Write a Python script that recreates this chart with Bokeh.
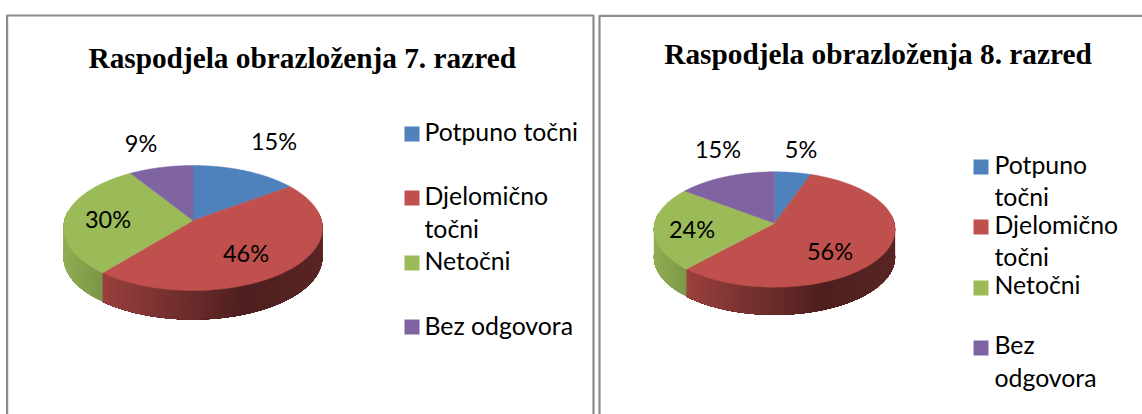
import numpy as np
from bokeh.plotting import figure
from bokeh.models import Range1d
from bokeh.core.properties import value
from bokeh.embed import file_html
from bokeh.resources import INLINE

CATEGORIES = ["Potpuno točni", "Djelomično točni", "Netočni", "Bez odgovora"]
COLORS = ["#4f81bd", "#c0504d", "#9bbb59", "#8064a2"]
VALUES_7 = [15, 46, 30, 9]
VALUES_8 = [5.4, 56.4, 23.5, 14.7]
TITLE_7 = "Raspodjela obrazloženja 7. razred"
TITLE_8 = "Raspodjela obrazloženja 8. razred"
LEGEND_LINES_7 = [["Potpuno točni"], ["Djelomično", "točni"], ["Netočni"], ["Bez odgovora"]]
LEGEND_LINES_8 = [["Potpuno", "točni"], ["Djelomično", "točni"], ["Netočni"], ["Bez", "odgovora"]]

# layout (page pixels)
LAYOUT_7 = dict(cx=192.5, cy=220, top=55, bottom=70, xr=129.5, depth=29,
                title=(301.7, 57),
                labels=[(273.5, 140.5), (245.5, 252), (107.5, 218), (140.5, 142.5)],
                swatch_x=404, swatch_y=[126, 190, 255, 319], text_x=424,
                text_y=[[131], [195, 228], [260], [325]])
LAYOUT_8 = dict(cx=774, cy=222.7, top=51.4, bottom=64, xr=120.6, depth=27.6,
                title=(877.5, 53.5),
                labels=[(800.5, 148), (829.5, 250), (691.5, 228), (717.5, 148)],
                swatch_x=973, swatch_y=[159, 219, 280, 340], text_x=994,
                text_y=[[164, 196], [224, 256], [284], [344, 377]])
FRAME = "#8c8c8c"
SHADE_X = [0.0, 0.15, 0.7, 1.0]
SHADE_K = [0.93, 0.80, 0.40, 0.47]

p = figure(width=1142, height=414, x_range=Range1d(0, 1142), y_range=Range1d(414, 0),
           output_backend="svg", toolbar_location=None, min_border=0,
           outline_line_color=None, background_fill_color="white")
p.axis.visible = False
p.grid.visible = False


def shade(color, k):
    rgb = [int(color[i:i + 2], 16) for i in (1, 3, 5)]
    return "#%02x%02x%02x" % tuple(int(c * k) for c in rgb)


def draw_pie(values, lay, title, lines):
    a, b = lay["top"], lay["bottom"]
    t = (b - a) / (b + a)
    B = a * (1 + t)
    A = lay["xr"] * np.sqrt(1 - t * t)

    def project(theta):
        u, v = np.sin(theta), np.cos(theta)
        w = 1 + t * v
        return lay["cx"] + A * u / w, lay["cy"] - B * v / w

    total = sum(values)
    edges = 2 * np.pi * np.cumsum([0] + list(values)) / total
    # side wall: overlapping strips, each running on to the slice's far end
    sx, sy, sc = [], [], []
    for i, col in enumerate(COLORS):
        lo, hi = max(edges[i], np.pi * 0.45), min(edges[i + 1], np.pi * 1.55)
        if hi <= lo:
            continue
        steps = np.linspace(lo, hi, max(2, int((hi - lo) * 40)))
        for j in range(len(steps) - 1):
            th = np.linspace(steps[j], hi, 60)
            x, y = project(th)
            sx.append(list(x) + list(x[::-1]))
            sy.append(list(y) + list((y + lay["depth"])[::-1]))
            xm, _ = project((steps[j] + steps[j + 1]) / 2)
            n = (xm - (lay["cx"] - lay["xr"])) / (2 * lay["xr"])
            sc.append(shade(col, np.interp(n, SHADE_X, SHADE_K)))
    p.patches(sx, sy, fill_color=sc, line_color=None)
    # top face
    tx, ty = [], []
    for i in range(len(values)):
        th = np.linspace(edges[i], edges[i + 1], 90)
        x, y = project(th)
        tx.append([lay["cx"]] + list(x))
        ty.append([lay["cy"]] + list(y))
    p.patches(tx, ty, fill_color=COLORS, line_color=COLORS, line_width=0.5)
    # percent labels
    p.text([q[0] for q in lay["labels"]], [q[1] for q in lay["labels"]],
           text=[f"{round(v)}%" for v in values],
           text_font=value("Lato"), text_font_size="23.5px", text_color="black",
           text_align="center", text_baseline="middle")
    # title
    p.text([lay["title"][0]], [lay["title"][1]], text=[title],
           text_font=value("Liberation Serif"), text_font_style="bold",
           text_font_size="29.3px", text_color="black",
           text_align="center", text_baseline="middle")
    # legend
    p.quad(left=[lay["swatch_x"]] * 4, right=[lay["swatch_x"] + 15] * 4,
           top=lay["swatch_y"], bottom=[y + 15 for y in lay["swatch_y"]],
           fill_color=COLORS, line_color=None)
    xs, ys, ts = [], [], []
    for ll, yy in zip(lines, lay["text_y"]):
        for s, y in zip(ll, yy):
            xs.append(lay["text_x"]); ys.append(y); ts.append(s)
    p.text(xs, ys, text=ts, text_font=value("Lato"), text_font_size="24.8px",
           text_color="black", text_align="left", text_baseline="middle")


# frames
p.multi_line([[6.6, 6.6, 593, 593], [599, 599, 1142]],
             [[414, 15, 15, 414], [414, 15.3, 15.3]],
             line_color=FRAME, line_width=2.2)

draw_pie(VALUES_7, LAYOUT_7, TITLE_7, LEGEND_LINES_7)
draw_pie(VALUES_8, LAYOUT_8, TITLE_8, LEGEND_LINES_8)

open("out.html", "w").write(file_html(p, INLINE))
